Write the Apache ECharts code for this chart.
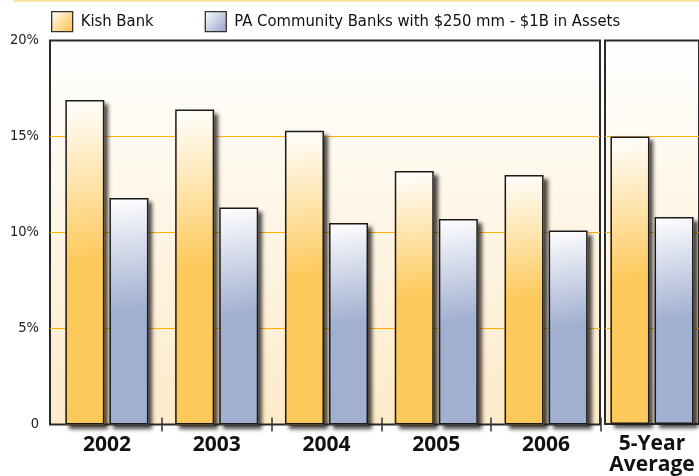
<!DOCTYPE html>
<html>
<head>
<meta charset="utf-8">
<script src="https://cdn.jsdelivr.net/npm/echarts@6/dist/echarts.min.js"></script>
<style>
  html, body { margin: 0; padding: 0; background: #ffffff; }
  #chart { width: 699px; height: 476px; }
</style>
</head>
<body>
<div id="chart"></div>
<script>
// Return on equity by year, Kish Bank vs. peer group
const years = ['2002', '2003', '2004', '2005', '2006'];
const averageLabel = ['5-Year\nAverage'];
const kishBank = [16.9, 16.4, 15.3, 13.2, 13.0];
const paBanks = [11.8, 11.3, 10.5, 10.7, 10.1];
const kishAverage = [15.0];
const paAverage = [10.8];
const seriesNames = ['Kish Bank', 'PA Community Banks with $250 mm - $1B in Assets'];
const yTicks = [0, 5, 10, 15, 20];

const narrow = '"DejaVu Sans Condensed", "DejaVu Sans", sans-serif';

const kishColor = '#fdc95b';
const paColor = '#a1afd1';

function barFill(base) {
  return {
    type: 'linear', x: 0, y: 0, x2: 0.4, y2: 0.5,
    colorStops: [
      { offset: 0, color: '#ffffff' },
      { offset: 1, color: base }
    ]
  };
}
function swatchFill(base) {
  return {
    type: 'linear', x: 0, y: 0, x2: 1, y2: 1,
    colorStops: [
      { offset: 0, color: '#ffffff' },
      { offset: 0.85, color: base },
      { offset: 1, color: base }
    ]
  };
}

const plotBackground = {
  type: 'linear', x: 0, y: 0, x2: 0, y2: 1,
  colorStops: [
    { offset: 0, color: '#ffffff' },
    { offset: 1, color: '#fdebc9' }
  ]
};

// grids: 0 = main frame, 1 = main bars, 2 = average frame + bars
const plotTop = 40.5;
const plotBottom = 51.5;
const frameStyle = {
  top: plotTop, bottom: plotBottom, show: true,
  backgroundColor: plotBackground,
  borderColor: '#2a2a2a', borderWidth: 2
};
const grids = [
  Object.assign({ left: 50, right: 99 }, frameStyle),
  { left: 52, right: 98, top: plotTop, bottom: plotBottom, show: false },
  Object.assign({ left: 605, right: -5 }, frameStyle)
];

const labelStyle = {
  margin: 10,
  fontFamily: '"Open Sans", sans-serif',
  fontWeight: 'bold',
  fontSize: 21,
  lineHeight: 21,
  color: '#111'
};

// Each bar grid carries two category axes: one for the filled, shadowed bars
// and an overlay one for the crisp outlines (and the inner half of the ticks).
function categoryAxis(gridIndex, data, role) {
  const ticks = gridIndex === 1;
  return {
    type: 'category', gridIndex, data,
    position: 'bottom',
    axisLine: { show: false },
    axisTick: {
      show: ticks && role !== 'frame',
      inside: role === 'outline',
      length: 7,
      interval: (i) => i > 0,
      lineStyle: { color: '#333', width: 1.5 }
    },
    axisLabel: Object.assign({ show: role === 'fill' }, labelStyle)
  };
}

function valueAxis(gridIndex, visible) {
  return {
    type: 'value', gridIndex,
    position: 'left',
    min: yTicks[0], max: yTicks[yTicks.length - 1], interval: yTicks[1] - yTicks[0],
    show: true,
    axisLine: { show: false },
    axisTick: { show: false },
    splitLine: {
      show: visible, showMinLine: false, showMaxLine: false,
      lineStyle: { color: '#ffb000', width: 1 }
    },
    axisLabel: {
      show: gridIndex === 0,
      margin: 11,
      fontFamily: narrow,
      fontSize: 14.5,
      color: '#222',
      formatter: (v) => (v === 0 ? '0' : v + '%')
    }
  };
}

const xAxes = [
  categoryAxis(0, years, 'frame'),     // 0
  categoryAxis(1, years, 'fill'),      // 1
  categoryAxis(1, years, 'outline'),   // 2
  categoryAxis(2, averageLabel, 'fill'),    // 3
  categoryAxis(2, averageLabel, 'outline')  // 4
];
const yAxes = [
  valueAxis(0, true),   // 0
  valueAxis(1, false),  // 1
  valueAxis(2, true)    // 2
];

function fillSeries(name, data, xIdx, yIdx, base) {
  return {
    name, type: 'bar', data,
    xAxisIndex: xIdx, yAxisIndex: yIdx,
    barWidth: 39, barGap: '13%',
    clip: false, z: 2,
    itemStyle: {
      color: barFill(base),
      shadowColor: 'rgba(30, 25, 20, 0.8)',
      shadowBlur: 4,
      shadowOffsetX: 4,
      shadowOffsetY: 4
    },
    emphasis: { disabled: true }
  };
}
function outlineSeries(data, xIdx, yIdx) {
  return {
    name: 'outline', type: 'bar', data,
    xAxisIndex: xIdx, yAxisIndex: yIdx,
    barWidth: 39, barGap: '13%',
    clip: false, z: 3,
    itemStyle: { color: 'rgba(0,0,0,0)', borderColor: '#1a1a1a', borderWidth: 1.5 },
    emphasis: { disabled: true }
  };
}

const chart = echarts.init(document.getElementById('chart'), null, { renderer: 'canvas' });
chart.setOption({
  animation: false,
  backgroundColor: '#ffffff',
  graphic: [{
    type: 'rect', left: 13, top: 0,
    shape: { width: 686, height: 2 },
    style: { fill: '#fde7a6' }
  }],
  legend: {
    data: [
      { name: seriesNames[0], itemStyle: { color: swatchFill(kishColor) } },
      { name: seriesNames[1], itemStyle: { color: swatchFill(paColor) } }
    ],
    left: 51, top: 11, padding: 0,
    itemWidth: 21, itemHeight: 20,
    itemGap: 51,
    icon: 'rect',
    selectedMode: false,
    itemStyle: { borderColor: '#333', borderWidth: 1.3, shadowBlur: 0, shadowOffsetX: 0, shadowOffsetY: 0 },
    textStyle: { fontFamily: narrow, fontSize: 16.5, color: '#111', padding: [0, 0, 0, 3] }
  },
  grid: grids,
  xAxis: xAxes,
  yAxis: yAxes,
  series: [
    fillSeries(seriesNames[0], kishBank, 1, 1, kishColor),
    fillSeries(seriesNames[1], paBanks, 1, 1, paColor),
    outlineSeries(kishBank, 2, 1),
    outlineSeries(paBanks, 2, 1),
    fillSeries(seriesNames[0], kishAverage, 3, 2, kishColor),
    fillSeries(seriesNames[1], paAverage, 3, 2, paColor),
    outlineSeries(kishAverage, 4, 2),
    outlineSeries(paAverage, 4, 2)
  ]
});
</script>
</body>
</html>
